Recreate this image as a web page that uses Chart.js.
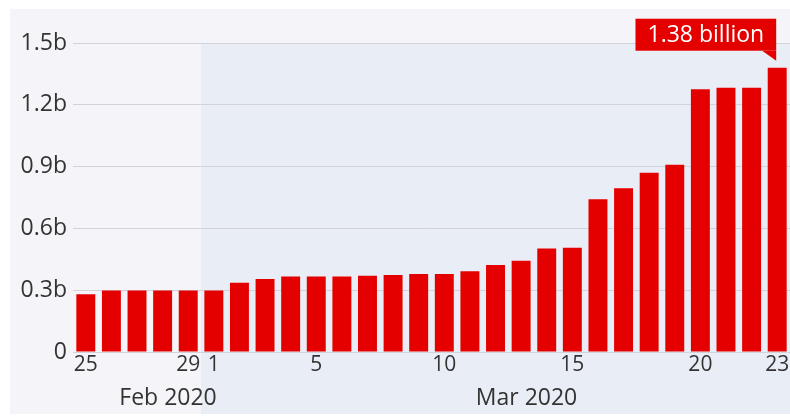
<!DOCTYPE html>
<html>
<head>
<meta charset="utf-8">
<script src="https://cdn.jsdelivr.net/npm/chart.js@4/dist/chart.umd.min.js"></script>
<style>
  html, body { margin: 0; padding: 0; background: #fff; }
  #wrap { width: 790px; height: 418px; position: relative; }
</style>
</head>
<body>
<div id="wrap"><canvas id="barChart"></canvas></div>
<script>
// days from 25 Feb to 23 Mar 2020
const days = ['25', '26', '27', '28', '29',
    '1', '2', '3', '4', '5', '6', '7', '8', '9', '10', '11', '12',
    '13', '14', '15', '16', '17', '18', '19', '20', '21', '22', '23'];
// people under lockdown, billions
const people = [0.280, 0.298, 0.298, 0.298, 0.298,
    0.298, 0.336, 0.354, 0.366, 0.366, 0.366, 0.370, 0.374, 0.379, 0.379, 0.392, 0.422,
    0.443, 0.502, 0.506, 0.741, 0.795, 0.870, 0.909, 1.275, 1.283, 1.283, 1.380];
const shownDays = ['25', '29', '1', '5', '10', '15', '20', '23'];
const months = ['Feb 2020', 'Mar 2020'];
const monthStart = [0, 5];   // first index of each month
const yTicks = [0, 0.3, 0.6, 0.9, 1.2, 1.5];
const lastLabel = '1.38 billion';

const ctx = document.querySelector('#barChart').getContext('2d');
const font = '"Open Sans", "Noto Sans", sans-serif';
const red = '#e50000';

// backgrounds: pale panel, bluish band for March
const backdrop = {
    id: 'backdrop',
    beforeDraw(chart) {
        const c = chart.ctx;
        const x = chart.scales.x;
        const area = chart.chartArea;
        c.save();
        c.fillStyle = '#ffffff';
        c.fillRect(0, 0, chart.width, chart.height);
        c.fillStyle = '#f5f5f9';
        c.fillRect(10, 9, chart.width - 10, chart.height - 13);
        c.fillStyle = '#e9eef6';
        const mx = x.getPixelForValue(monthStart[1] - 0.5);
        c.fillRect(mx, area.top, chart.width - mx, chart.height - 4 - area.top);
        c.restore();
    }
};

// month names under the day ticks + callout on the last bar
const extras = {
    id: 'extras',
    afterDraw(chart) {
        const c = chart.ctx;
        const x = chart.scales.x;
        const area = chart.chartArea;
        c.save();
        c.font = '23px ' + font;
        c.fillStyle = '#333';
        c.textAlign = 'center';
        c.textBaseline = 'middle';
        months.forEach((m, i) => {
            const end = i + 1 < monthStart.length ? monthStart[i + 1] - 1 : days.length - 1;
            const mid = (monthStart[i] + end) / 2;
            c.fillText(m, x.getPixelForValue(mid) + 31, area.bottom + 46);
        });

        const bar = chart.getDatasetMeta(0).data[days.length - 1];
        c.font = '23px ' + font;
        const w = c.measureText(lastLabel).width + 24;
        const right = bar.x - 1;
        const bottom = bar.y - 17;
        const h = 32;
        c.fillStyle = red;
        c.fillRect(right - w, bottom - h, w, h);
        c.beginPath();
        c.moveTo(right - 14, bottom);
        c.lineTo(right, bottom);
        c.lineTo(right, bottom + 10);
        c.closePath();
        c.fill();
        c.fillStyle = '#ffffff';
        c.fillText(lastLabel, right - w / 2, bottom - h / 2 + 1);
        c.restore();
    }
};

let barChart = new Chart(ctx, {
    type: 'bar',
    data: {
        labels: days,
        datasets: [{
            data: people,
            backgroundColor: red,
            barPercentage: 0.74,
            categoryPercentage: 1
        }]
    },
    options: {
        responsive: true,
        maintainAspectRatio: false,
        animation: false,
        layout: {
            padding: { left: 10, top: 43, right: 0, bottom: 0 }
        },
        plugins: {
            legend: { display: false },
            tooltip: { enabled: false }
        },
        scales: {
            x: {
                grid: { display: false, drawTicks: false },
                border: { display: false },
                ticks: {
                    autoSkip: false,
                    maxRotation: 0,
                    padding: 0,
                    color: '#333',
                    font: { family: font, size: 21 },
                    callback: function (v, i) {
                        const d = days[i];
                        return shownDays.includes(d) ? d : '';
                    }
                },
                afterFit: s => { s.height = 66; }
            },
            y: {
                min: 0,
                max: 1.5,
                afterBuildTicks: s => { s.ticks = yTicks.map(v => ({ value: v })); },
                grid: { color: '#d2d3da', drawTicks: false, lineWidth: 1 },
                border: { display: false },
                ticks: {
                    padding: 6,
                    color: '#333',
                    font: { family: font, size: 23 },
                    callback: v => v === 0 ? '0' : v.toFixed(1) + 'b'
                },
                afterFit: s => { s.width = 63; }
            }
        }
    },
    plugins: [backdrop, extras]
});
</script>
</body>
</html>
